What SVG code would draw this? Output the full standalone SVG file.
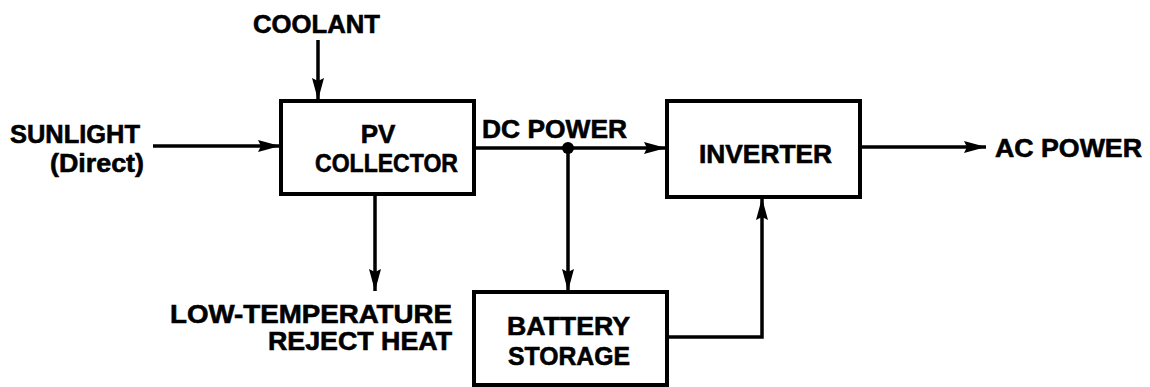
<svg xmlns="http://www.w3.org/2000/svg" width="1150" height="387" viewBox="0 0 1150 387">
<style>
text{font-family:"Liberation Sans",Arial,sans-serif;font-weight:bold;font-size:26px;fill:#000;stroke:#000;stroke-width:0.6}
.box{fill:#fff;stroke:#000;stroke-width:4}
.ln{fill:none;stroke:#000;stroke-width:3.5}
</style>
<defs>
<marker id="ah" markerUnits="userSpaceOnUse" markerWidth="24" markerHeight="14" refX="22" refY="6" orient="auto">
<path d="M0,0 L22,6 L0,12 L3,6 Z" fill="#000"/>
</marker>
</defs>
<rect width="1150" height="387" fill="#fff"/>
<g id="connectors">
<line class="ln" x1="318" y1="40" x2="318" y2="100" marker-end="url(#ah)"/>
<line class="ln" x1="153" y1="146" x2="280" y2="146" marker-end="url(#ah)"/>
<line class="ln" x1="474" y1="148" x2="666" y2="148" marker-end="url(#ah)"/>
<circle cx="568" cy="148" r="6" fill="#000"/>
<line class="ln" x1="568" y1="148" x2="568" y2="291" marker-end="url(#ah)"/>
<line class="ln" x1="375" y1="194" x2="375" y2="291" marker-end="url(#ah)"/>
<line class="ln" x1="860" y1="147" x2="986" y2="147" marker-end="url(#ah)"/>
<polyline class="ln" points="667,337 762,337 762,198" marker-end="url(#ah)"/>
</g>
<g id="coolant"><text x="253" y="33" textLength="127" lengthAdjust="spacingAndGlyphs">COOLANT</text></g>
<g id="sunlight">
<text x="10" y="143" textLength="130" lengthAdjust="spacingAndGlyphs">SUNLIGHT</text>
<text x="50" y="172" textLength="94" lengthAdjust="spacingAndGlyphs">(Direct)</text>
</g>
<g id="pv-collector">
<rect class="box" x="281" y="101" width="193" height="93"/>
<text x="378" y="143" text-anchor="middle">PV</text>
<text x="315" y="172" textLength="143" lengthAdjust="spacingAndGlyphs">COLLECTOR</text>
</g>
<g id="dc-power"><text x="482" y="138" textLength="145" lengthAdjust="spacingAndGlyphs">DC POWER</text></g>
<g id="inverter">
<rect class="box" x="667" y="101" width="193" height="96"/>
<text x="699" y="163" textLength="133" lengthAdjust="spacingAndGlyphs">INVERTER</text>
</g>
<g id="ac-power"><text x="995" y="157" textLength="147" lengthAdjust="spacingAndGlyphs">AC POWER</text></g>
<g id="reject-heat">
<text x="170" y="323" textLength="282" lengthAdjust="spacingAndGlyphs">LOW-TEMPERATURE</text>
<text x="268" y="350" textLength="184" lengthAdjust="spacingAndGlyphs">REJECT HEAT</text>
</g>
<g id="battery-storage">
<rect class="box" x="474" y="292" width="193" height="93"/>
<text x="507" y="335" textLength="123" lengthAdjust="spacingAndGlyphs">BATTERY</text>
<text x="508" y="365" textLength="122" lengthAdjust="spacingAndGlyphs">STORAGE</text>
</g>
</svg>
